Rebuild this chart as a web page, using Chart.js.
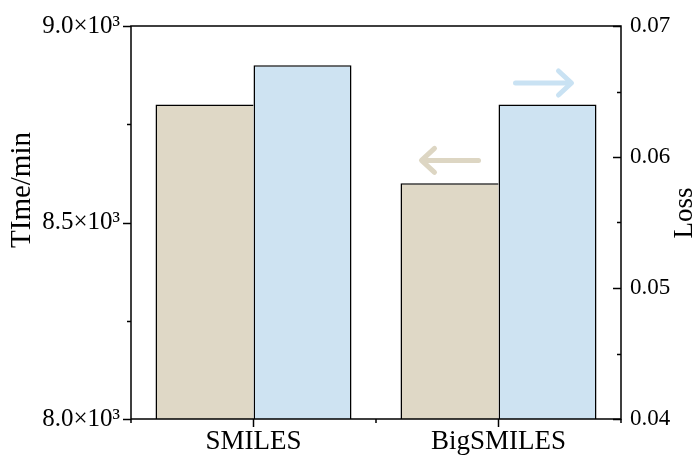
<!DOCTYPE html>
<html>
<head>
<meta charset="utf-8">
<script src="https://cdn.jsdelivr.net/npm/chart.js@4/dist/chart.umd.min.js"></script>
<style>
  html, body { margin: 0; padding: 0; background: #ffffff; }
  #wrap { width: 695px; height: 459px; }
</style>
</head>
<body>
<div id="wrap"><canvas id="c" width="695" height="459"></canvas></div>
<script>
const categories = ['SMILES', 'BigSMILES'];
const timeValues = [8800, 8600];
const lossValues = [0.067, 0.064];
const timeMajorTicks = [8000, 8500, 9000];
const lossMajorTicks = [0.04, 0.05, 0.06, 0.07];
const leftTitle = 'TIme/min';
const rightTitle = 'Loss';

const SERIF = '"Liberation Serif", "Times New Roman", serif';
const TAN = '#dfd8c6';
const BLUE = '#cee3f2';

function isMajor(v, list) { return list.some(m => Math.abs(m - v) < 1e-9); }

const decoPlugin = {
  id: 'deco',
  afterDraw(chart) {
    const ctx = chart.ctx;
    const a = chart.chartArea;
    const x = chart.scales.x, y = chart.scales.y, y1 = chart.scales.y1;
    ctx.save();
    ctx.strokeStyle = '#000';
    ctx.lineWidth = 1.5;
    ctx.lineCap = 'butt';
    // frame
    ctx.beginPath();
    ctx.rect(a.left, a.top, a.right - a.left, a.bottom - a.top);
    ctx.stroke();
    // left ticks (outward)
    y.ticks.forEach(t => {
      const py = Math.round(y.getPixelForValue(t.value)) + 0.5;
      const len = isMajor(t.value, timeMajorTicks) ? 8 : 4;
      ctx.beginPath(); ctx.moveTo(a.left, py); ctx.lineTo(a.left - len, py); ctx.stroke();
    });
    // right ticks (pointing left, inward)
    y1.ticks.forEach(t => {
      const py = Math.round(y1.getPixelForValue(t.value)) + 0.5;
      const len = isMajor(t.value, lossMajorTicks) ? 8 : 4;
      ctx.beginPath(); ctx.moveTo(a.right, py); ctx.lineTo(a.right - len, py); ctx.stroke();
    });
    // x ticks
    const n = categories.length;
    for (let i = 0; i < n; i++) {
      const px = x.getPixelForValue(i);
      ctx.beginPath(); ctx.moveTo(px, a.bottom); ctx.lineTo(px, a.bottom + 8); ctx.stroke();
    }
    for (let i = 0; i <= n; i++) {
      const px = a.left + (a.right - a.left) * i / n;
      ctx.beginPath(); ctx.moveTo(px, a.bottom); ctx.lineTo(px, a.bottom + 4); ctx.stroke();
    }
    // axis titles
    ctx.fillStyle = '#000';
    ctx.textAlign = 'center';
    ctx.textBaseline = 'middle';
    ctx.save();
    ctx.font = '29px ' + SERIF;
    ctx.translate(22, 190);
    ctx.rotate(-Math.PI / 2);
    ctx.fillText(leftTitle, 0, 0);
    ctx.restore();
    ctx.save();
    ctx.font = '27px ' + SERIF;
    ctx.translate(685, 213);
    ctx.rotate(-Math.PI / 2);
    ctx.fillText(rightTitle, 0, 0);
    ctx.restore();
    // arrows
    const cx = x.getPixelForValue(1);
    const drawArrow = (x0, x1, yy, color) => {
      ctx.strokeStyle = color;
      ctx.lineWidth = 5;
      ctx.lineCap = 'round';
      ctx.lineJoin = 'round';
      const dir = Math.sign(x1 - x0);
      ctx.beginPath(); ctx.moveTo(x0, yy); ctx.lineTo(x1 - dir * 2, yy); ctx.stroke();
      ctx.beginPath();
      ctx.moveTo(x1 - dir * 13, yy - 12);
      ctx.lineTo(x1, yy);
      ctx.lineTo(x1 - dir * 13, yy + 12);
      ctx.stroke();
    };
    drawArrow(cx + 17, cx + 73, y.getPixelForValue(8855), '#c9e2f3');
    drawArrow(cx - 20, cx - 77, y.getPixelForValue(8658), '#ddd6c3');
    ctx.restore();
  }
};

new Chart(document.getElementById('c'), {
  type: 'bar',
  data: {
    labels: categories,
    datasets: [
      { label: 'Time', data: timeValues, yAxisID: 'y', backgroundColor: TAN, borderColor: '#000',
        borderWidth: { top: 1.5, left: 1.5, right: 0, bottom: 0 }, borderSkipped: false },
      { label: 'Loss', data: lossValues, yAxisID: 'y1', backgroundColor: BLUE, borderColor: '#000',
        borderWidth: { top: 1.5, left: 1.5, right: 1.5, bottom: 0 }, borderSkipped: false }
    ]
  },
  options: {
    responsive: false,
    animation: false,
    layout: { padding: { top: 25, right: 0, left: 0, bottom: 0 } },
    plugins: { legend: { display: false }, tooltip: { enabled: false } },
    datasets: { bar: { categoryPercentage: 0.8, barPercentage: 1.0 } },
    scales: {
      x: {
        grid: { display: false, drawTicks: false },
        border: { display: false },
        ticks: { color: '#000', font: { family: SERIF, size: 27 }, padding: 7, maxRotation: 0 },
        afterFit(s) { s.height = 40; }
      },
      y: {
        position: 'left',
        min: 8000, max: 9000,
        grid: { display: false, drawTicks: false },
        border: { display: false },
        ticks: {
          stepSize: 250, autoSkip: false, color: '#000',
          font: { family: SERIF, size: 25 }, padding: 11,
          callback(v) { return isMajor(v, timeMajorTicks) ? (v / 1000).toFixed(1) + '×10³' : ''; }
        },
        afterFit(s) { s.width = 131; }
      },
      y1: {
        position: 'right',
        min: 0.04, max: 0.07,
        grid: { display: false, drawTicks: false },
        border: { display: false },
        ticks: {
          stepSize: 0.005, autoSkip: false, color: '#000',
          font: { family: SERIF, size: 23 }, padding: 9,
          callback(v) { return isMajor(v, lossMajorTicks) ? v.toFixed(2) : ''; }
        },
        afterFit(s) { s.width = 74; }
      }
    }
  },
  plugins: [decoPlugin]
});
</script>
</body>
</html>
